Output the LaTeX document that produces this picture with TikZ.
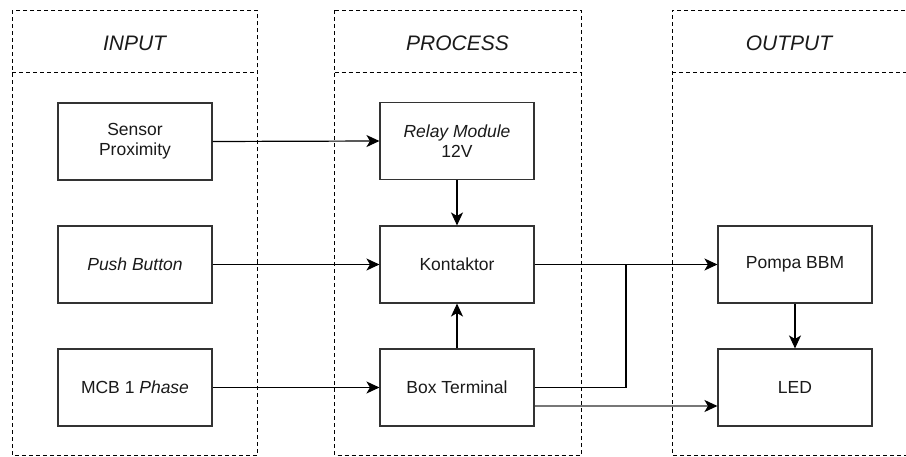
\documentclass[tikz,border=0pt]{standalone}
\usepackage{fontspec}
\setmainfont{Liberation Sans}
\usetikzlibrary{arrows.meta}
\definecolor{boxline}{HTML}{333333}
\definecolor{grayline}{HTML}{777777}
\definecolor{txt}{HTML}{1a1a1a}
\tikzset{
  colbox/.style={draw=black, dash pattern=on 4pt off 3pt, line width=0.9pt},
  blk/.style={draw=boxline, line width=1.1pt, fill=white, minimum width=154pt, minimum height=77pt, align=center, inner sep=0pt, text=txt, font=\fontsize{17.5}{20}\selectfont},
  hdr/.style={font=\fontsize{21}{25}\selectfont\itshape, inner sep=0pt, text=txt},
  conn/.style={draw=black, line width=1.2pt, -{Stealth[length=13pt,width=12pt,inset=3.5pt]}},
  plain/.style={draw=black, line width=1.2pt},
}
\begin{document}
\begin{tikzpicture}[x=1pt,y=-1pt]
\useasboundingbox (0,0) rectangle (906,457);
% columns
\draw[colbox] (12,10.5) rectangle (257,455.5);
\draw[colbox] (12,72) -- (257,72);
\draw[colbox] (334.5,10.5) rectangle (581,455.5);
\draw[colbox] (334.5,72) -- (581,72);
\draw[colbox] (912,10.5) -- (672,10.5) -- (672,455.5) -- (912,455.5);
\draw[colbox] (672,72) -- (912,72);
\node[hdr] (hin) at (134.5,43) {INPUT};
\node[hdr] (hpr) at (457.5,43) {PROCESS};
\node[hdr] (hout) at (789,43) {OUTPUT};
% blocks
\node[blk] (sensor) at (135,141.5) {Sensor\\Proximity};
\node[blk] (push) at (135,264.5) {\itshape Push Button};
\node[blk] (mcb) at (135,387.5) {MCB 1 \textit{Phase}};
\node[blk] (relay) at (457,141) {\textit{Relay Module}\\12V};
\node[blk] (kont) at (457,264.5) {Kontaktor};
\node[blk] (box) at (457,387.5) {Box Terminal};
\node[blk] (pompa) at (795,264.5) {Pompa BBM};
\node[blk] (led) at (795,387.5) {LED};
% connectors
\draw[conn] (sensor.east) -- (relay.west);
\draw[conn] (push.east) -- (kont.west);
\draw[conn] (mcb.east) -- (box.west);
\draw[conn] (relay.south) -- (kont.north);
\draw[conn] (box.north) -- (kont.south);
\draw[conn] (kont.east) -- (pompa.west);
\coordinate (junc) at (626,264.5);
\draw[plain] (box.east) -| (junc);
\coordinate (bt2) at ([yshift=-18.5pt]box.east);
\coordinate (led2) at ([yshift=-18.5pt]led.west);
\draw[conn, draw=grayline, line width=2pt, -{Stealth[length=13pt,width=12pt,inset=3.5pt,color=black]}] (bt2) -- (led2);
\draw[conn] (pompa.south) -- (led.north);
\end{tikzpicture}
\end{document}
